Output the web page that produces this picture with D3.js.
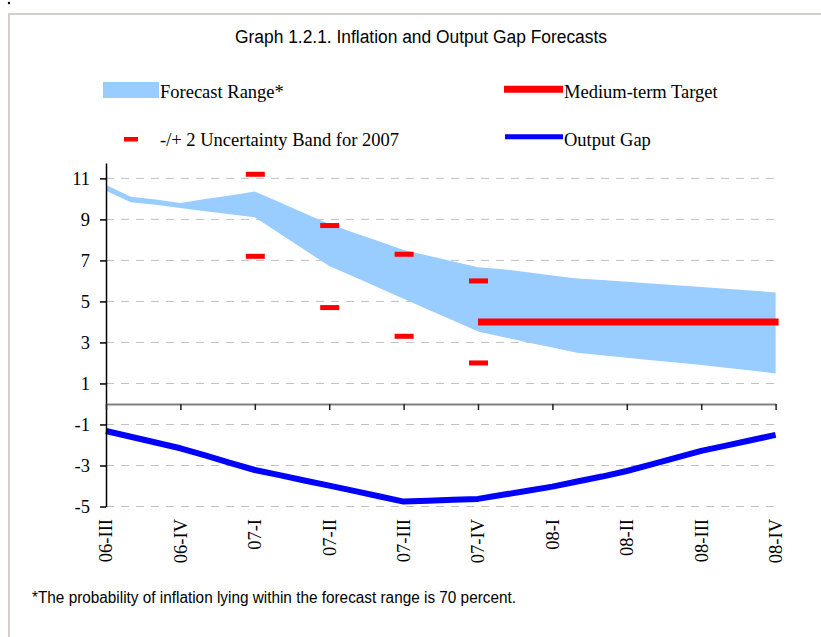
<!DOCTYPE html>
<meta charset="utf-8">
<head>
  <title>Inflation and Output Gap Forecasts</title>
  <style>
    body { margin: 0; background: #fff; }
    svg { display: block; }
  </style>
</head>
<body>
<script src="https://d3js.org/d3.v7.min.js"></script>
<script>

// quarter labels (one tick every 3 monthly points)
const quarters = ["06-III", "06-IV", "07-I", "07-II", "07-III", "07-IV", "08-I", "08-II", "08-III", "08-IV"];

// monthly points, 06-III .. 08-IV (28 points)
const bandUpper = [10.68, 10.11, 9.97, 9.80, 9.99, 10.17, 10.36, 9.83, 9.30, 8.77,
                   8.35, 7.93, 7.51, 7.23, 6.95, 6.67, 6.57, 6.42, 6.27, 6.12,
                   6.04, 5.96, 5.87, 5.79, 5.70, 5.62, 5.53, 5.44];
const bandLower = [10.40, 9.84, 9.72, 9.55, 9.40, 9.25, 9.10, 8.31, 7.52, 6.73,
                   6.20, 5.67, 5.13, 4.60, 4.07, 3.53, 3.27, 3.00, 2.75, 2.50,
                   2.37, 2.25, 2.13, 2.02, 1.90, 1.77, 1.63, 1.49];
const outputGap = [-1.32, -1.60, -1.88, -2.16, -2.51, -2.87, -3.22, -3.47, -3.73, -3.98,
                   -4.24, -4.50, -4.76, -4.72, -4.67, -4.63, -4.43, -4.23, -4.03, -3.78,
                   -3.54, -3.27, -2.95, -2.62, -2.29, -2.03, -1.77, -1.51];

// -/+ 2 uncertainty band for 2007
const uncQuarters = ["07-I", "07-II", "07-III", "07-IV"];
const uncHigh = [11.2, 8.7, 7.3, 6.0];
const uncLow = [7.2, 4.7, 3.3, 2.0];

// medium-term target
const targetQuarters = ["07-IV", "08-IV"];
const targetValue = 4;

const yTicks = [-5, -3, -1, 1, 3, 5, 7, 9, 11];

const title = "Graph 1.2.1. Inflation and Output Gap Forecasts";
const footnote = "*The probability of inflation lying within the forecast range is 70 percent.";

const W = 821, H = 637;
const svg = d3.select("body").append("svg").attr("width", W).attr("height", H);

const serif = "'Liberation Serif', 'Times New Roman', serif";
const narrow = "'Liberation Sans Narrow', 'Arial Narrow', 'Liberation Sans', sans-serif";
const fs = 18.5;

// frame
svg.append("path")
  .attr("d", "M9,637V14H821")
  .attr("fill", "none")
  .attr("stroke", "#d4d0c8")
  .attr("stroke-width", 2);
svg.append("circle").attr("cx", 9).attr("cy", 3).attr("r", 1.2).attr("fill", "#000");

// title
svg.append("text")
  .attr("x", 421).attr("y", 43)
  .attr("text-anchor", "middle")
  .attr("font-family", narrow)
  .attr("font-size", 18)
  .attr("textLength", 372)
  .attr("lengthAdjust", "spacingAndGlyphs")
  .attr("fill", "#000")
  .text(title);

// scales
const months = d3.range(bandUpper.length);
const x = d3.scaleLinear().domain([0, months.length - 1]).range([106, 775.6]);
const qx = q => x(quarters.indexOf(q) * 3);
const y = d3.scaleLinear().domain([-5, 11.75]).range([506.5, 163]);

const g = svg.append("g");

// grid
g.selectAll("line.grid")
  .data(yTicks)
  .join("line")
  .attr("class", "grid")
  .attr("x1", x(0)).attr("x2", x(months.length - 1))
  .attr("y1", d => y(d)).attr("y2", d => y(d))
  .attr("stroke", "#c0c0c0")
  .attr("stroke-width", 1)
  .attr("stroke-dasharray", "8,7");

// forecast range
const area = d3.area()
  .x(i => x(i))
  .y0(i => y(bandLower[i]))
  .y1(i => y(bandUpper[i]));
g.append("path")
  .attr("d", area(months))
  .attr("fill", "#99ccff");

// target
g.append("line")
  .attr("x1", qx(targetQuarters[0])).attr("x2", qx(targetQuarters[1]) + 3)
  .attr("y1", y(targetValue)).attr("y2", y(targetValue))
  .attr("stroke", "#ff0000")
  .attr("stroke-width", 7);

// uncertainty markers
const unc = uncQuarters.flatMap((q, i) => [{ q, v: uncHigh[i] }, { q, v: uncLow[i] }]);
g.selectAll("rect.unc")
  .data(unc)
  .join("rect")
  .attr("class", "unc")
  .attr("x", d => qx(d.q) - 9)
  .attr("y", d => y(d.v) - 2.5)
  .attr("width", 19)
  .attr("height", 5)
  .attr("fill", "#ff0000");

// output gap
g.append("path")
  .attr("d", d3.line().x(i => x(i)).y(i => y(outputGap[i]))(months))
  .attr("fill", "none")
  .attr("stroke", "#0000ff")
  .attr("stroke-width", 6)
  .attr("stroke-linejoin", "round");

// y axis
const yAxis = g.append("g")
  .attr("transform", "translate(106,0)")
  .call(d3.axisLeft(y).tickValues(yTicks).tickFormat(d => String(d))
    .tickSize(6).tickPadding(10).tickSizeOuter(0));
yAxis.select(".domain").attr("stroke", "#000").attr("stroke-width", 1.5);
yAxis.selectAll(".tick line").attr("stroke", "#000").attr("stroke-width", 1.5);
yAxis.selectAll(".tick text")
  .attr("font-family", serif)
  .attr("font-size", fs)
  .attr("fill", "#000");

// x axis at zero
const xAxis = g.append("g")
  .attr("transform", "translate(0," + y(0) + ")")
  .call(d3.axisBottom(x)
    .tickValues(quarters.map((q, i) => i * 3))
    .tickFormat(() => "")
    .tickSize(6)
    .tickSizeOuter(0));
xAxis.select(".domain").attr("stroke", "#808080").attr("stroke-width", 2);
xAxis.selectAll(".tick line").attr("stroke", "#222").attr("stroke-width", 1.5);

// quarter labels below the plot
g.selectAll("text.q")
  .data(quarters)
  .join("text")
  .attr("class", "q")
  .attr("transform", d => "translate(" + qx(d) + ",519) rotate(-90)")
  .attr("dy", "0.35em")
  .attr("text-anchor", "end")
  .attr("font-family", serif)
  .attr("font-size", fs)
  .attr("fill", "#000")
  .text(d => d);

// legend
const leg = svg.append("g").attr("font-family", serif).attr("font-size", fs).attr("fill", "#000");
leg.append("rect").attr("x", 103).attr("y", 82).attr("width", 56).attr("height", 16).attr("fill", "#99ccff");
leg.append("text").attr("x", 160).attr("y", 97.5).text("Forecast Range*");
leg.append("line").attr("x1", 504).attr("x2", 563).attr("y1", 89.2).attr("y2", 89.2)
  .attr("stroke", "#ff0000").attr("stroke-width", 7);
leg.append("text").attr("x", 564).attr("y", 97.5).text("Medium-term Target");
leg.append("rect").attr("x", 124).attr("y", 137).attr("width", 14).attr("height", 4.5).attr("fill", "#ff0000");
leg.append("text").attr("x", 160).attr("y", 145.5).text("-/+ 2 Uncertainty Band for 2007");
leg.append("line").attr("x1", 505).attr("x2", 563).attr("y1", 136.8).attr("y2", 136.8)
  .attr("stroke", "#0000ff").attr("stroke-width", 5);
leg.append("text").attr("x", 564).attr("y", 145.5).text("Output Gap");

// footnote
svg.append("text")
  .attr("x", 32).attr("y", 603)
  .attr("font-family", narrow)
  .attr("font-size", 16)
  .attr("textLength", 484)
  .attr("lengthAdjust", "spacingAndGlyphs")
  .attr("fill", "#000")
  .text(footnote);

</script>
</body>
</html>
